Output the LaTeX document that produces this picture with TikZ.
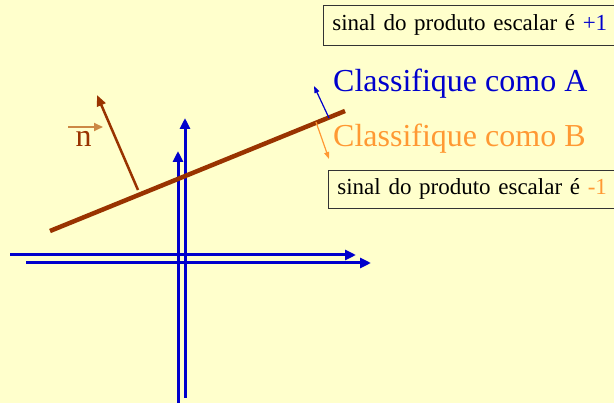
\documentclass[tikz,border=0pt]{standalone}
\usepackage{fontspec}
\setmainfont{Liberation Serif}
\usetikzlibrary{arrows.meta}
\definecolor{fundo}{HTML}{FFFFCC}
\definecolor{azul}{HTML}{0000CC}
\definecolor{laranja}{HTML}{FF9933}
\definecolor{marrom}{HTML}{993300}
\definecolor{setan}{HTML}{CC8844}
\begin{document}
\begin{tikzpicture}[x=1pt,y=-1pt,
  eixo/.style={azul, line width=3pt, -{Triangle[length=11pt,width=10pt]}},
  caixa/.style={draw=black!80, line width=0.8pt, fill=fundo, anchor=west,
    inner xsep=9pt, inner ysep=0pt, text width=290pt, align=left,
    minimum height=40pt, font=\fontsize{23}{23}\selectfont},
  rotulo/.style={anchor=base west, inner sep=0pt, font=\fontsize{32}{32}\selectfont}]
  % fundo
  \fill[fundo] (0,0) rectangle (614,403);
  \clip (0,0) rectangle (614,403);
  % eixos
  \coordinate (h1a) at (10,255);  \coordinate (h1b) at (356,255);
  \coordinate (h2a) at (26,263);  \coordinate (h2b) at (371,263);
  \coordinate (v1a) at (178,405); \coordinate (v1b) at (178,151);
  \coordinate (v2a) at (185,398); \coordinate (v2b) at (185,118);
  \draw[eixo] (h1a) -- (h1b);
  \draw[eixo] (h2a) -- (h2b);
  \draw[eixo] (v1a) -- (v1b);
  \draw[eixo] (v2a) -- (v2b);
  % reta de decisao
  \coordinate (r1) at (50,231);
  \coordinate (r2) at (345,111);
  \draw[marrom, line width=4.5pt] (r1) -- (r2);
  % vetor normal
  \coordinate (n0) at (138,190);
  \coordinate (n1) at (97,95);
  \draw[marrom, line width=2.5pt, -{Triangle[length=11pt,width=9pt]}] (n0) -- (n1);
  \node[marrom, anchor=base, inner sep=0pt, font=\fontsize{32}{32}\selectfont] (nrot) at (83.5,147) {n};
  \coordinate (s0) at (68,127);
  \coordinate (s1) at (103,127);
  \draw[setan, line width=2pt, -{Triangle[length=9pt,width=8pt]}] (s0) -- (s1);
  % lados
  \coordinate (a0) at (329,118);
  \coordinate (a1) at (314,86);
  \draw[azul, line width=1.2pt, -{Triangle[length=7pt,width=5pt]}] (a0) -- (a1);
  \coordinate (b0) at (316,122);
  \coordinate (b1) at (329,159);
  \draw[laranja, line width=1.2pt, -{Triangle[length=7pt,width=5pt]}] (b0) -- (b1);
  \node[rotulo, azul] (classA) at (333,92) {Classifique como A};
  \node[rotulo, laranja] (classB) at (333,147) {Classifique como B};
  % caixas
  \node[caixa] (mais) at (323,25) {sinal do produto escalar é \textcolor{azul}{+1}};
  \node[caixa, minimum height=38pt] (menos) at (328,189) {sinal do produto escalar é \textcolor{laranja}{-1}};
\end{tikzpicture}
\end{document}
